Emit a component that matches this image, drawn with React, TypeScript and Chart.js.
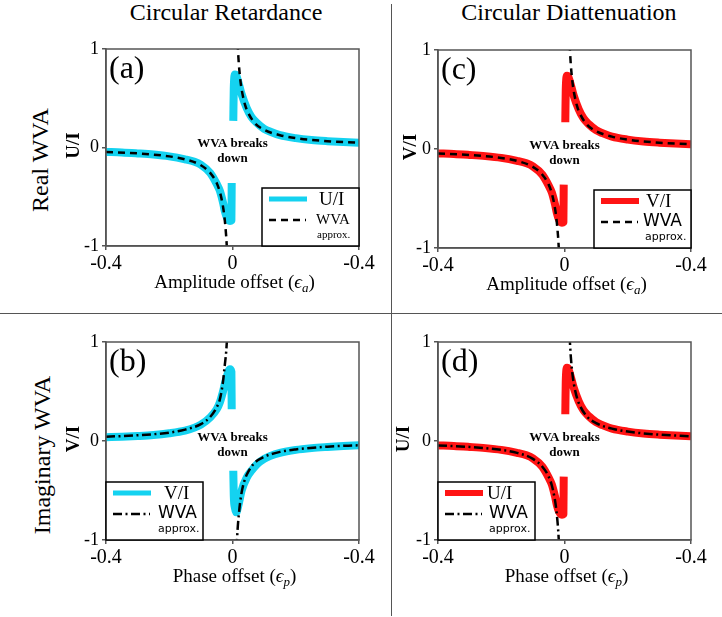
import React, { useEffect, useRef } from 'react';
import { Chart, registerables } from 'chart.js';

Chart.register(...registerables);

const SERIF = '"Liberation Serif", "Times New Roman", "DejaVu Serif", serif';
const SANS = '"DejaVu Sans", Verdana, sans-serif';
const CYAN = '#14d2f0';
const RED = '#ff1414';

// ---- text ----
const columnTitles = ['Circular Retardance', 'Circular Diattenuation'];
const rowTitles = ['Real WVA', 'Imaginary WVA'];
const xTitleAmp = ['Amplitude offset (', 'ϵ', 'a', ')'];
const xTitlePhase = ['Phase offset (', 'ϵ', 'p', ')'];
const breaksText = ['WVA breaks', 'down'];
const wvaLegendText = ['WVA', 'approx.'];

// ---- ticks ----
const xTickValues = [-0.4, 0, 0.4];
const xTickLabels = ['-0.4', '0', '-0.4'];
const yTickValues = [-1, 0, 1];
const yTickLabels = ['-1', '0', '1'];

// ---- exact curves (offset epsilon -> ratio) ----
const epsExact = [-0.4, -0.35, -0.3, -0.25, -0.2, -0.15, -0.12, -0.1, -0.07, -0.05, -0.04, -0.03, -0.024, -0.018, -0.012, -0.008, -0.0035, -0.0025, 0, 0.0025, 0.004, 0.008, 0.012, 0.018, 0.029, 0.045, 0.06, 0.077, 0.1, 0.12, 0.15, 0.2, 0.25, 0.3, 0.35, 0.4];
const exactA = [-0.045, -0.05, -0.06, -0.072, -0.09, -0.12, -0.145, -0.175, -0.26, -0.37, -0.44, -0.56, -0.65, -0.71, -0.74, -0.745, -0.74, -0.36, null, 0.27, 0.6, 0.74, 0.73, 0.67, 0.54, 0.4, 0.31, 0.25, 0.19, 0.16, 0.125, 0.095, 0.076, 0.064, 0.055, 0.048];
const exactB = [0.038, 0.043, 0.05, 0.06, 0.078, 0.105, 0.135, 0.165, 0.24, 0.32, 0.39, 0.5, 0.58, 0.65, 0.71, 0.725, 0.7, 0.32, null, -0.3, -0.55, -0.68, -0.72, -0.66, -0.5, -0.37, -0.3, -0.235, -0.18, -0.15, -0.12, -0.09, -0.072, -0.06, -0.05, -0.043];
const exactC = [-0.045, -0.05, -0.06, -0.072, -0.09, -0.12, -0.145, -0.175, -0.26, -0.37, -0.44, -0.56, -0.65, -0.71, -0.74, -0.745, -0.74, -0.36, null, 0.27, 0.6, 0.74, 0.73, 0.67, 0.54, 0.4, 0.31, 0.25, 0.19, 0.16, 0.125, 0.095, 0.076, 0.064, 0.055, 0.048];
const exactD = [-0.045, -0.05, -0.06, -0.072, -0.09, -0.12, -0.145, -0.175, -0.26, -0.37, -0.44, -0.56, -0.65, -0.71, -0.74, -0.745, -0.74, -0.36, null, 0.27, 0.6, 0.74, 0.73, 0.67, 0.54, 0.4, 0.31, 0.25, 0.19, 0.16, 0.125, 0.095, 0.076, 0.064, 0.055, 0.048];

// ---- WVA approximations ----
const epsWvaA = [-0.4, -0.3, -0.2, -0.15, -0.1, -0.07, -0.05, -0.04, -0.03, -0.025, -0.02, -0.017, 0, 0.016, 0.02, 0.025, 0.03, 0.04, 0.05, 0.07, 0.1, 0.15, 0.2, 0.3, 0.4];
const wvaA = [-0.045, -0.06, -0.09, -0.12, -0.18, -0.26, -0.36, -0.45, -0.6, -0.72, -0.9, -1.06, null, 1.06, 0.85, 0.68, 0.57, 0.43, 0.35, 0.25, 0.18, 0.125, 0.095, 0.064, 0.048];
const epsWvaB = [-0.4, -0.3, -0.2, -0.15, -0.1, -0.07, -0.05, -0.04, -0.03, -0.025, -0.02, -0.017, 0, 0.013, 0.016, 0.021, 0.025, 0.03, 0.04, 0.05, 0.07, 0.1, 0.15, 0.2, 0.3, 0.4];
const wvaB = [0.043, 0.058, 0.085, 0.115, 0.17, 0.245, 0.34, 0.42, 0.6, 0.75, 0.9, 1.05, null, -1.08, -0.9, -0.71, -0.6, -0.5, -0.38, -0.31, -0.22, -0.16, -0.11, -0.085, -0.057, -0.043];
const epsWvaC = epsWvaA;
const wvaC = [-0.045, -0.06, -0.09, -0.12, -0.18, -0.26, -0.36, -0.45, -0.6, -0.72, -0.9, -1.06, null, 1.06, 0.85, 0.68, 0.57, 0.43, 0.35, 0.25, 0.18, 0.125, 0.095, 0.064, 0.048];
const epsWvaD = epsWvaA;
const wvaD = [-0.045, -0.06, -0.09, -0.12, -0.18, -0.26, -0.36, -0.45, -0.6, -0.72, -0.9, -1.06, null, 1.06, 0.85, 0.68, 0.57, 0.43, 0.35, 0.25, 0.18, 0.125, 0.095, 0.064, 0.048];

const DASH = [7, 5];
const DASHDOT = [9, 3.5, 2, 3.5];

const PAD_T = 15;
const PAD_R = 25;
const Y_W = 60;
const X_H = 60;

const panels: any[] = [
  { L: 106, T: 49, R: 359, B: 246, color: CYAN, exact: exactA, epsW: epsWvaA, wva: wvaA, dash: DASH, label: '(a)', yTitle: 'U/I', yDx: 32, xTitle: xTitleAmp, legendLabel: 'U/I', side: 'right', lx: 57, wFont: SERIF, wSize: 15, wx: 54, ax: 55, lineW: 5 },
  { L: 106, T: 342, R: 359, B: 540, color: CYAN, exact: exactB, epsW: epsWvaB, wva: wvaB, dash: DASHDOT, label: '(b)', yTitle: 'V/I', yDx: 32, xTitle: xTitlePhase, legendLabel: 'V/I', side: 'left', lx: 58, wFont: SANS, wSize: 17, wx: 52, ax: 52, lineW: 5 },
  { L: 438, T: 50, R: 691, B: 248, color: RED, exact: exactC, epsW: epsWvaC, wva: wvaC, dash: DASH, label: '(c)', yTitle: 'V/I', yDx: 27, xTitle: xTitleAmp, legendLabel: 'V/I', side: 'right', lx: 52, wFont: SANS, wSize: 17, wx: 49, ax: 51, lineW: 6 },
  { L: 438, T: 342, R: 691, B: 540, color: RED, exact: exactD, epsW: epsWvaD, wva: wvaD, dash: DASHDOT, label: '(d)', yTitle: 'U/I', yDx: 34, xTitle: xTitlePhase, legendLabel: 'U/I', side: 'left', lx: 49, wFont: SANS, wSize: 17, wx: 51, ax: 51, lineW: 6 },
];

function makeDecor(cfg: any) {
  return {
    id: 'panelDecor',
    afterDraw(chart: any) {
      const ctx = chart.ctx;
      const { left, right, top, bottom } = chart.chartArea;
      const x0 = chart.scales.x.getPixelForValue(0);
      const y0 = chart.scales.y.getPixelForValue(0);
      ctx.save();
      // frame
      ctx.strokeStyle = '#555';
      ctx.lineWidth = 1.5;
      ctx.strokeRect(left, top, right - left, bottom - top);
      // panel label
      ctx.fillStyle = '#000';
      ctx.font = `32px ${SERIF}`;
      ctx.textAlign = 'left';
      ctx.textBaseline = 'alphabetic';
      ctx.fillText(cfg.label, left + 3, top + 29);
      // breaks down
      ctx.font = `bold 13px ${SERIF}`;
      ctx.textAlign = 'center';
      ctx.textBaseline = 'middle';
      ctx.fillText(breaksText[0], x0, y0 - 3.5);
      ctx.fillText(breaksText[1], x0, y0 + 11.5);
      // y title
      ctx.save();
      ctx.translate(left - cfg.yDx, (top + bottom) / 2 - 2);
      ctx.rotate(-Math.PI / 2);
      ctx.font = `bold 19px ${SERIF}`;
      ctx.fillText(cfg.yTitle, 0, 0);
      ctx.restore();
      // x title with italic epsilon and subscript
      const parts = [
        { t: cfg.xTitle[0], f: `19px ${SERIF}`, dy: 0 },
        { t: cfg.xTitle[1], f: `italic 19px ${SERIF}`, dy: 0 },
        { t: cfg.xTitle[2], f: `italic 13px ${SERIF}`, dy: 4 },
        { t: cfg.xTitle[3], f: `19px ${SERIF}`, dy: 0 },
      ];
      ctx.textAlign = 'left';
      ctx.textBaseline = 'alphabetic';
      let total = 0;
      const widths = parts.map((p) => {
        ctx.font = p.f;
        const w = ctx.measureText(p.t).width;
        total += w;
        return w;
      });
      let cx = (left + right) / 2 + 2 - total / 2;
      const base = bottom + 42;
      parts.forEach((p, i) => {
        ctx.font = p.f;
        ctx.fillText(p.t, cx, base + p.dy);
        cx += widths[i];
      });
      // legend
      const bw = 97;
      const bh = 58;
      const bx = cfg.side === 'right' ? right - bw : left;
      const by = bottom - bh;
      ctx.fillStyle = '#fff';
      ctx.fillRect(bx, by, bw, bh);
      ctx.strokeStyle = '#000';
      ctx.lineWidth = 1.5;
      ctx.strokeRect(bx, by, bw, bh);
      ctx.strokeStyle = cfg.color;
      ctx.lineWidth = cfg.lineW;
      ctx.beginPath();
      ctx.moveTo(bx + 7, by + 11);
      ctx.lineTo(bx + 45, by + 11);
      ctx.stroke();
      ctx.fillStyle = '#000';
      ctx.font = `19px ${SERIF}`;
      ctx.textBaseline = 'middle';
      ctx.fillText(cfg.legendLabel, bx + cfg.lx, by + 12);
      ctx.strokeStyle = '#000';
      ctx.lineWidth = 2.5;
      ctx.setLineDash(cfg.dash);
      ctx.beginPath();
      ctx.moveTo(bx + 7, by + 32);
      ctx.lineTo(bx + 44, by + 32);
      ctx.stroke();
      ctx.setLineDash([]);
      ctx.font = `${cfg.wSize}px ${cfg.wFont}`;
      ctx.fillText(wvaLegendText[0], bx + cfg.wx, by + 32);
      ctx.font = `11px ${cfg.wFont}`;
      ctx.fillText(wvaLegendText[1], bx + cfg.ax, by + 47.5);
      ctx.restore();
    },
  };
}

function Panel({ cfg }: { cfg: any }) {
  const ref = useRef<HTMLCanvasElement>(null);
  const width = cfg.R - cfg.L + Y_W + PAD_R;
  const height = cfg.B - cfg.T + PAD_T + X_H;
  useEffect(() => {
    const pts = (xs: number[], ys: (number | null)[]) => xs.map((x, i) => ({ x, y: ys[i] }));
    const chart = new Chart(ref.current as HTMLCanvasElement, {
      type: 'line',
      data: {
        datasets: [
          {
            data: pts(cfg.epsW, cfg.wva),
            borderColor: '#000',
            borderWidth: 2.5,
            borderDash: cfg.dash,
            pointRadius: 0,
            spanGaps: false,
            cubicInterpolationMode: 'monotone',
            fill: false,
          },
          {
            data: pts(epsExact, cfg.exact),
            borderColor: cfg.color,
            borderWidth: 8,
            borderJoinStyle: 'round',
            pointRadius: 0,
            spanGaps: false,
            cubicInterpolationMode: 'monotone',
            fill: false,
          },
        ],
      } as any,
      options: {
        animation: false,
        responsive: false,
        devicePixelRatio: 1,
        events: [],
        layout: { padding: { left: 0, top: PAD_T, right: PAD_R, bottom: 0 }, autoPadding: false },
        plugins: { legend: { display: false }, tooltip: { enabled: false } },
        scales: {
          x: {
            type: 'linear',
            min: -0.4,
            max: 0.4,
            afterBuildTicks: (s: any) => {
              s.ticks = xTickValues.map((v) => ({ value: v }));
            },
            afterFit: (s: any) => {
              s.height = X_H;
              s.paddingLeft = 0;
              s.paddingRight = 0;
            },
            ticks: {
              callback: (_v: any, i: number) => xTickLabels[i],
              font: { family: SERIF, size: 20 },
              color: '#000',
              maxRotation: 0,
              autoSkip: false,
              padding: 2,
            },
            grid: { drawOnChartArea: false, tickLength: 4, color: '#555', lineWidth: 1.5 },
            border: { color: '#555', width: 1.5 },
          },
          y: {
            type: 'linear',
            min: -1,
            max: 1,
            afterBuildTicks: (s: any) => {
              s.ticks = yTickValues.map((v) => ({ value: v }));
            },
            afterFit: (s: any) => {
              s.width = Y_W;
              s.paddingTop = 0;
              s.paddingBottom = 0;
            },
            ticks: {
              callback: (_v: any, i: number) => yTickLabels[i],
              font: { family: SERIF, size: 18 },
              color: '#000',
              padding: 3,
              autoSkip: false,
            },
            grid: { drawOnChartArea: false, tickLength: 4, color: '#555', lineWidth: 1.5 },
            border: { color: '#555', width: 1.5 },
          },
        },
      } as any,
      plugins: [makeDecor(cfg)],
    });
    return () => chart.destroy();
  }, []);
  return (
    <canvas
      ref={ref}
      width={width}
      height={height}
      style={{ position: 'absolute', left: cfg.L - Y_W, top: cfg.T - PAD_T, width, height }}
    />
  );
}

export default function App() {
  const textBase: any = { position: 'absolute', font: `24px ${SERIF}`, lineHeight: '24px', whiteSpace: 'nowrap', color: '#000' };
  return (
    <div style={{ position: 'absolute', left: 0, top: 0, width: 722, height: 617, background: '#fff', overflow: 'hidden' }}>
      <div style={{ ...textBase, left: 226 - 150, top: 0, width: 300, textAlign: 'center' }}>{columnTitles[0]}</div>
      <div style={{ ...textBase, left: 569 - 150, top: 0, width: 300, textAlign: 'center' }}>{columnTitles[1]}</div>
      <div style={{ ...textBase, left: 40, top: 160, transform: 'translate(-50%, -50%) rotate(-90deg)' }}>{rowTitles[0]}</div>
      <div style={{ ...textBase, left: 42, top: 455, transform: 'translate(-50%, -50%) rotate(-90deg)' }}>{rowTitles[1]}</div>
      <div style={{ position: 'absolute', left: 390.5, top: 4, width: 1.5, height: 612, background: '#555' }} />
      <div style={{ position: 'absolute', left: 0, top: 312.5, width: 722, height: 1.5, background: '#555' }} />
      {panels.map((p, i) => (
        <Panel key={i} cfg={p} />
      ))}
    </div>
  );
}
